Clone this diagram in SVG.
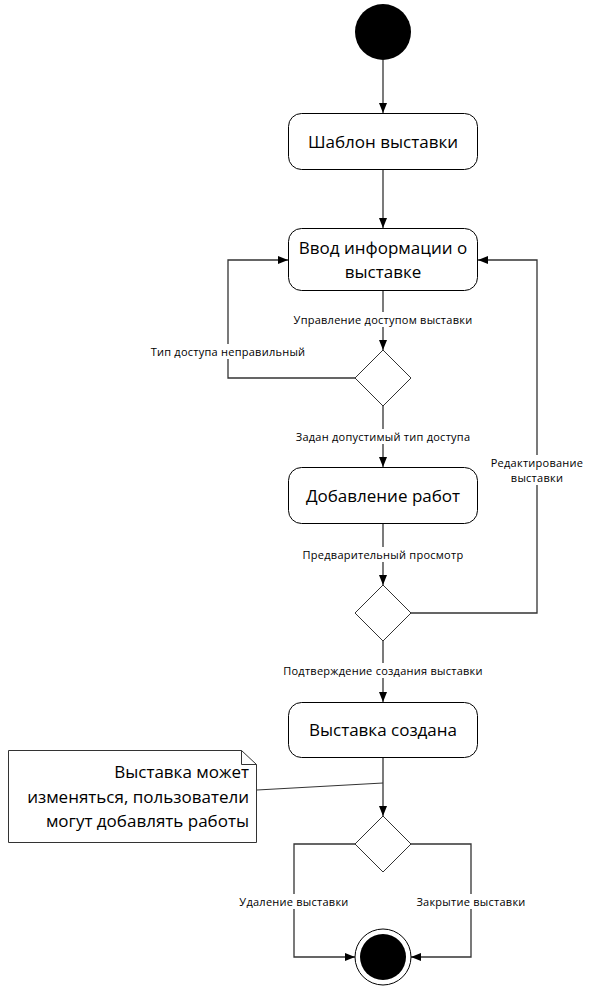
<svg xmlns="http://www.w3.org/2000/svg" width="591" height="990" viewBox="0 0 591 990">
<style>
.box{fill:#fff;stroke:#000;stroke-width:1}
.dia{fill:#fff;stroke:#333;stroke-width:1}
.ln{fill:none;stroke:#333;stroke-width:1.3}
.t{font-family:"Open Sans",sans-serif;font-size:17px;fill:#000;text-anchor:middle}
.lb{font-family:"Open Sans",sans-serif;font-size:11px;letter-spacing:0.25px;fill:#000;text-anchor:middle}
.lbg{fill:#fff}
</style>
<defs>
<marker id="ar" markerWidth="10" markerHeight="10" refX="10" refY="5" orient="auto" markerUnits="userSpaceOnUse">
<path d="M0,1 L10,5 L0,9 Z" fill="#000"/>
</marker>
</defs>
<g id="connectors">
<path class="ln" d="M383,60 V113" marker-end="url(#ar)"/>
<path class="ln" d="M383,170 V228" marker-end="url(#ar)"/>
<path class="ln" d="M383,291 V350" marker-end="url(#ar)"/>
<path class="ln" d="M355,378 H228 V260 H288" marker-end="url(#ar)"/>
<path class="ln" d="M383,406 V467" marker-end="url(#ar)"/>
<path class="ln" d="M383,524 V585" marker-end="url(#ar)"/>
<path class="ln" d="M411,613 H537 V260 H478" marker-end="url(#ar)"/>
<path class="ln" d="M383,641 V702" marker-end="url(#ar)"/>
<path class="ln" d="M383,757 V816" marker-end="url(#ar)"/>
<path class="ln" d="M355,844 H294 V957 H355" marker-end="url(#ar)"/>
<path class="ln" d="M411,844 H471 V957 H411" marker-end="url(#ar)"/>
<path class="ln" d="M257,790 L383,783" style="stroke-width:1"/>
<rect class="lbg" x="290" y="312" width="186" height="15"/>
<text class="lb" x="383" y="324">Управление доступом выставки</text>
<rect class="lbg" x="150" y="344" width="157" height="15"/>
<text class="lb" x="228" y="356">Тип доступа неправильный</text>
<rect class="lbg" x="292" y="429" width="183" height="15"/>
<text class="lb" x="383" y="441">Задан допустимый тип доступа</text>
<rect class="lbg" x="489" y="455" width="96" height="30"/>
<text class="lb" x="537" y="467">Редактирование</text>
<text class="lb" x="537" y="482">выставки</text>
<rect class="lbg" x="300" y="547" width="166" height="15"/>
<text class="lb" x="383" y="559">Предварительный просмотр</text>
<rect class="lbg" x="280" y="663" width="206" height="15"/>
<text class="lb" x="383" y="675">Подтверждение создания выставки</text>
<rect class="lbg" x="238" y="894" width="112" height="15"/>
<text class="lb" x="294" y="906">Удаление выставки</text>
<rect class="lbg" x="414" y="894" width="114" height="15"/>
<text class="lb" x="471" y="906">Закрытие выставки</text>
</g>
<g id="start"><circle cx="383" cy="32" r="28" fill="#000"/></g>
<g id="n1"><rect class="box" x="288.5" y="113.5" width="189" height="56" rx="13"/><text class="t" x="383" y="148">Шаблон выставки</text></g>
<g id="n2"><rect class="box" x="288.5" y="228.5" width="189" height="62" rx="13"/><text class="t" x="383" y="254">Ввод информации о</text><text class="t" x="383" y="278">выставке</text></g>
<g id="d1"><path class="dia" d="M383,350 L411,378 L383,406 L355,378 Z"/></g>
<g id="n3"><rect class="box" x="288.5" y="467.5" width="189" height="56" rx="13"/><text class="t" x="383" y="502">Добавление работ</text></g>
<g id="d2"><path class="dia" d="M383,585 L411,613 L383,641 L355,613 Z"/></g>
<g id="n4"><rect class="box" x="288.5" y="702.5" width="189" height="55" rx="13"/><text class="t" x="383" y="736">Выставка создана</text></g>
<g id="note"><path d="M8.5,750.5 H241.5 L256.5,764.5 V842.5 H8.5 Z" fill="#fff" stroke="#333" stroke-width="1"/><path d="M241.5,750.5 V764.5 H256.5" fill="none" stroke="#333" stroke-width="1"/>
<text class="t" style="text-anchor:end" x="249" y="778">Выставка может</text>
<text class="t" style="text-anchor:end" x="249" y="803">изменяться, пользователи</text>
<text class="t" style="text-anchor:end" x="249" y="827">могут добавлять работы</text></g>
<g id="d3"><path class="dia" d="M383,816 L411,844 L383,872 L355,844 Z"/></g>
<g id="end"><circle cx="383" cy="957" r="28" fill="#fff" stroke="#000" stroke-width="1"/><circle cx="383" cy="957" r="23" fill="#000"/></g>
</svg>
